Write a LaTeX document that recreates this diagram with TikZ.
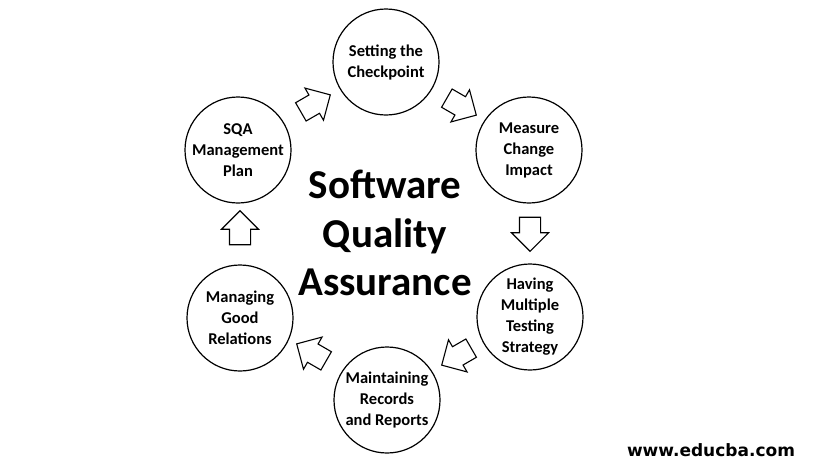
\documentclass[tikz,border=0pt]{standalone}
\usepackage{fontspec}
\setmainfont{Carlito}
\newfontfamily\sitefont{DejaVu Sans}
\usetikzlibrary{shapes.arrows}

\tikzset{
  stage/.style={circle, draw=black, line width=1.2pt, minimum size=106pt,
    inner sep=0pt, align=center, font=\fontsize{16.5}{21}\selectfont\bfseries},
  flow/.style={single arrow, draw=black, line width=1.1pt, fill=white,
    minimum height=34pt, inner sep=10pt, single arrow head extend=8pt,
    single arrow tip angle=90},
  title/.style={align=center, font=\fontsize{41}{48.5}\selectfont\bfseries},
  site/.style={anchor=base, font=\sitefont\fontsize{17}{20}\selectfont\bfseries}
}

\begin{document}
\begin{tikzpicture}[x=1pt, y=-1pt]
  \useasboundingbox (0,0) rectangle (820,461);
  \fill[white] (0,0) rectangle (820,461);

  % the six stages of the cycle
  \node[stage] (check)   at (386,62)  {Setting the\\Checkpoint};
  \node[stage] (impact)  at (529,150) {Measure\\Change\\Impact};
  \node[stage] (testing) at (530,317) {Having\\Multiple\\Testing\\Strategy};
  \node[stage] (records) at (387,400) {Maintaining\\Records\\and Reports};
  \node[stage] (relations) at (240,318) {Managing\\Good\\Relations};
  \node[stage] (plan)    at (238,150) {SQA\\Management\\Plan};

  % block arrows between the stages (clockwise)
  \node[flow, rotate=30]   (a1) at (311,106) {};
  \node[flow, rotate=-30]  (a2) at (457,104) {};
  \node[flow, rotate=-90]  (a3) at (530,229) {};
  \node[flow, rotate=-150] (a4) at (461,354) {};
  \node[flow, rotate=150]  (a5) at (316,355) {};
  \node[flow, rotate=90]   (a6) at (240,233) {};

  % central title
  \node[title] (center) at (385,233) {Software\\Quality\\Assurance};

  % footer
  \node[site] (url) at (711,456) {www.educba.com};
\end{tikzpicture}
\end{document}
